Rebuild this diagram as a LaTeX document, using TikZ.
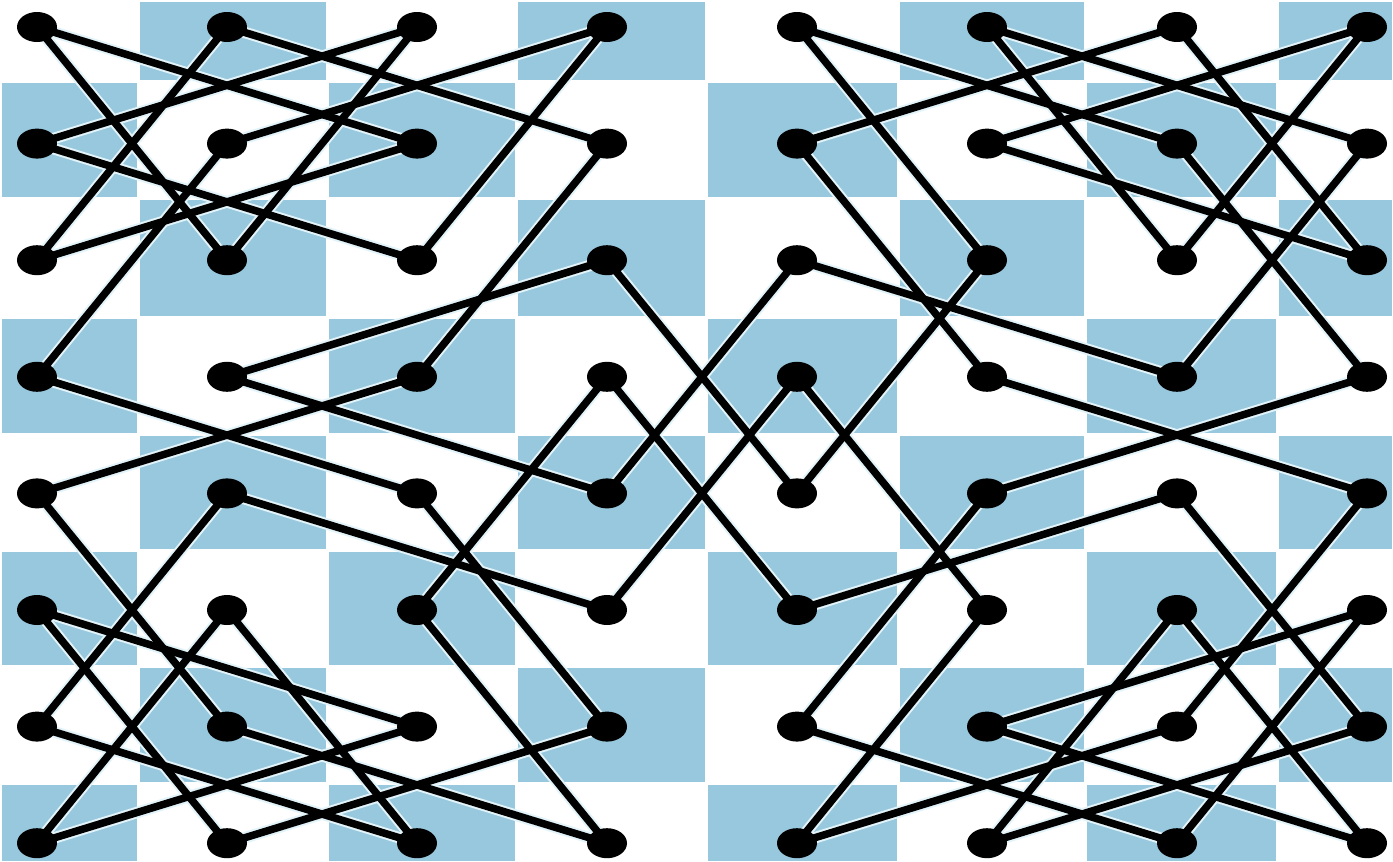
\documentclass[tikz,border=0pt]{standalone}
\usetikzlibrary{shapes.geometric}
\definecolor{boardblue}{RGB}{152,200,221}
\definecolor{halocol}{RGB}{226,244,250}
\pgfdeclarelayer{board}
\pgfdeclarelayer{lines}
\pgfsetlayers{board,lines,main}
\begin{document}
\begin{tikzpicture}[x=1pt,y=-1pt,
  dot/.style={ellipse,fill=black,inner sep=0pt,minimum width=40pt,minimum height=30pt},
  tour/.style={line width=7.5pt,line cap=round,black},
  tourhalo/.style={line width=11.5pt,line cap=round,halocol}]
\useasboundingbox (0,0) rectangle (1393,862);
\begin{pgfonlayer}{board}
\fill[white] (0,0) rectangle (1393,862);
\foreach \c/\xa/\xb in {0/0/138,1/138/327,2/327/516,3/516/706,4/706/898,5/898/1085,6/1085/1277,7/1277/1393}{
  \foreach \r/\ya/\yb in {0/0/81,1/81/198,2/198/317,3/317/434,4/434/550,5/550/666,6/666/783,7/783/862}{
    \ifodd\numexpr\c+\r\relax
      \fill[boardblue] (\xa+1.5,\ya+1.5) rectangle (\xb-1.5,\yb-1.5);
    \fi
  }
}
\end{pgfonlayer}
\foreach \c in {0,...,7}{
  \foreach \r in {0,...,7}{
    \node[dot] (n\c\r) at ({37+190*\c},{27+116.6*\r}) {};
  }
}
\def\touredges{00/12,12/20,20/01,01/22,22/30,30/11,11/03,03/24,24/36,36/17,17/05,05/26,26/07,07/15,15/27,27/06,06/14,14/35,35/43,43/55,55/47,47/66,66/74,74/53,53/41,41/60,60/72,72/51,51/70,70/62,62/50,50/71,71/63,63/42,42/34,34/13,13/32,32/44,44/52,52/40,40/61,61/73,73/54,54/46,46/67,67/75,75/56,56/77,77/65,65/57,57/76,76/64,64/45,45/33,33/25,25/37,37/16,16/04,04/23,23/31,31/10,10/02,02/21,21/00}
\begin{pgfonlayer}{lines}
\foreach \a/\b in \touredges{\draw[tourhalo] (n\a.center) -- (n\b.center);}
\foreach \a/\b in \touredges{\draw[tour] (n\a.center) -- (n\b.center);}
\end{pgfonlayer}
\end{tikzpicture}
\end{document}
